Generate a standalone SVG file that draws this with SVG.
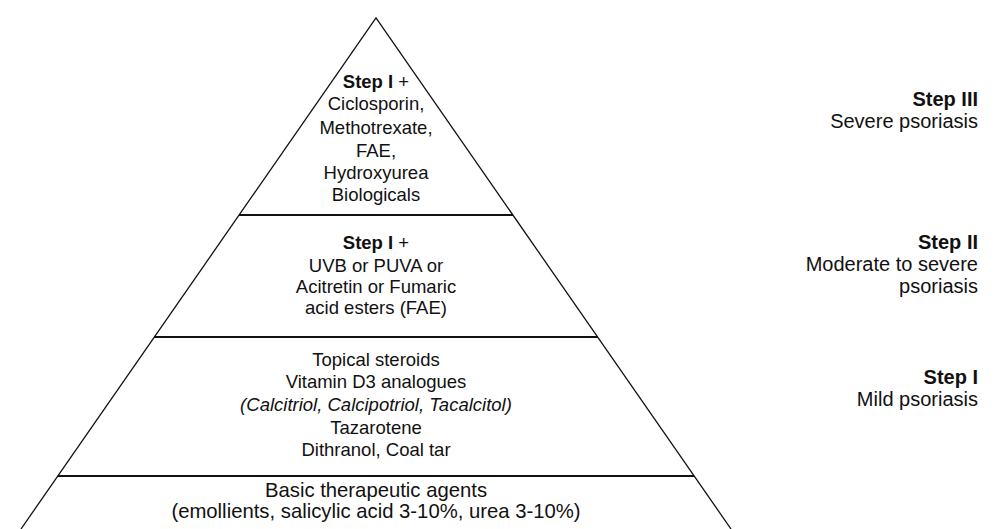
<svg xmlns="http://www.w3.org/2000/svg" width="995" height="529" viewBox="0 0 995 529">
<style>
.t{font-family:"Liberation Sans",Arial,sans-serif;fill:#111;text-anchor:middle;font-size:18.5px}
.bt{font-size:20.3px}
.b{font-weight:bold}
.i{font-style:italic}
.r{font-family:"Liberation Sans",Arial,sans-serif;fill:#111;text-anchor:end;font-size:20px}
.side{stroke:#111;stroke-width:1.3;fill:none}
.sep{stroke:#111;stroke-width:2.2;fill:none}
</style>
<rect width="995" height="529" fill="#fff"/>
<g id="pyramid">
<polyline class="side" points="21,529 376,18 731,529"/>
</g>
<g id="connectors">
<line class="sep" x1="239" y1="215" x2="513" y2="215"/>
<line class="sep" x1="154" y1="337" x2="598" y2="337"/>
<line class="sep" x1="58" y1="476" x2="694" y2="476"/>
</g>
<g id="step3">
<text class="t b" x="376" y="88">Step I <tspan font-weight="normal">+</tspan></text>
<text class="t" x="376" y="110">Ciclosporin,</text>
<text class="t" x="376" y="134">Methotrexate,</text>
<text class="t" x="376" y="157">FAE,</text>
<text class="t" x="376" y="179">Hydroxyurea</text>
<text class="t" x="376" y="201">Biologicals</text>
</g>
<g id="step2">
<text class="t b" x="376" y="249">Step I <tspan font-weight="normal">+</tspan></text>
<text class="t" x="376" y="272">UVB or PUVA or</text>
<text class="t" x="376" y="293">Acitretin or Fumaric</text>
<text class="t" x="376" y="314">acid esters (FAE)</text>
</g>
<g id="step1">
<text class="t" x="376" y="366">Topical steroids</text>
<text class="t" x="376" y="388">Vitamin D3 analogues</text>
<text class="t i" x="376" y="411">(Calcitriol, Calcipotriol, Tacalcitol)</text>
<text class="t" x="376" y="434">Tazarotene</text>
<text class="t" x="376" y="456">Dithranol, Coal tar</text>
</g>
<g id="basic">
<text class="t bt" x="376" y="497">Basic therapeutic agents</text>
<text class="t bt" x="376" y="518">(emollients, salicylic acid 3-10%, urea 3-10%)</text>
</g>
<g id="label3">
<text class="r b" x="978" y="106">Step III</text>
<text class="r" x="978" y="128">Severe psoriasis</text>
</g>
<g id="label2">
<text class="r b" x="978" y="249">Step II</text>
<text class="r" x="978" y="271">Moderate to severe</text>
<text class="r" x="978" y="293">psoriasis</text>
</g>
<g id="label1">
<text class="r b" x="978" y="384">Step I</text>
<text class="r" x="978" y="406">Mild psoriasis</text>
</g>
</svg>
